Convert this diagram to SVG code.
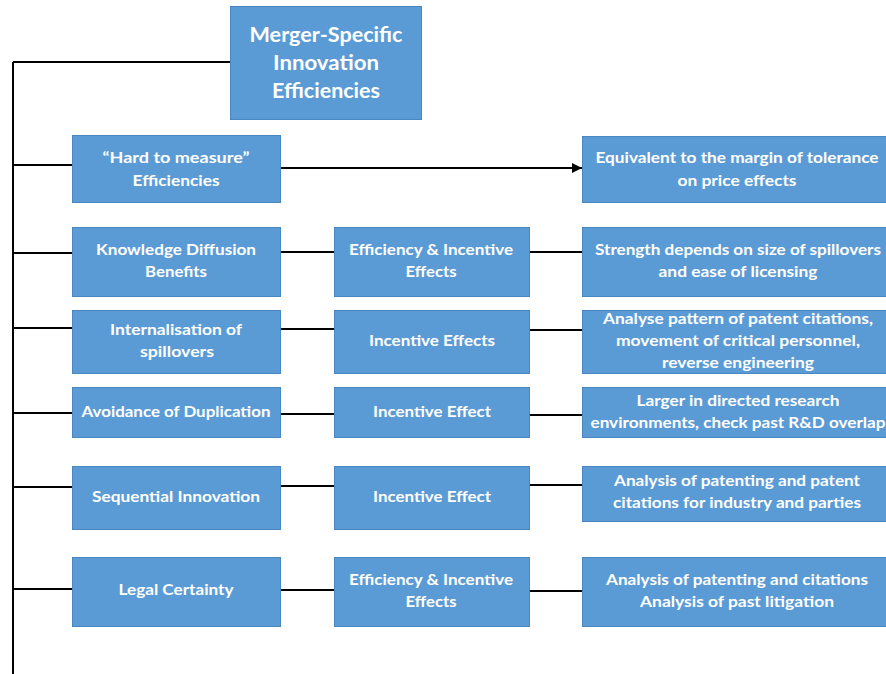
<svg xmlns="http://www.w3.org/2000/svg" width="886" height="674" viewBox="0 0 886 674">
<style>
.box{fill:#5B9BD5;stroke:#4A86C2;stroke-width:1}
.t{font-family:Lato,"Open Sans","Liberation Sans",sans-serif;font-weight:bold;fill:#fff;font-size:15px;text-anchor:middle}
.tt{font-size:20px}
.c{fill:none;stroke:#000;stroke-width:2}
</style>
<defs>
<marker id="arr" viewBox="0 0 10 10" refX="10" refY="5" markerWidth="5" markerHeight="5" orient="auto" markerUnits="strokeWidth">
<path d="M0,0 L10,5 L0,10 z" fill="#000"/>
</marker>
</defs>
<g id="connectors">
<path class="c" d="M13,62 H230"/>
<path class="c" d="M13,62 V674"/>
<path class="c" d="M13,165 H72"/>
<path class="c" d="M280,168 H582" marker-end="url(#arr)"/>
<path class="c" d="M13,253 H72"/>
<path class="c" d="M280,252 H334"/>
<path class="c" d="M529,252 H582"/>
<path class="c" d="M13,328 H72"/>
<path class="c" d="M280,329 H334"/>
<path class="c" d="M529,330 H582"/>
<path class="c" d="M13,413 H72"/>
<path class="c" d="M280,414 H334"/>
<path class="c" d="M529,415 H582"/>
<path class="c" d="M13,487 H72"/>
<path class="c" d="M280,486 H334"/>
<path class="c" d="M529,485 H582"/>
<path class="c" d="M13,589 H72"/>
<path class="c" d="M280,590 H334"/>
<path class="c" d="M529,591 H582"/>
</g>
<g id="root">
<rect class="box" x="230.5" y="6.5" width="191" height="113"/>
<text class="t tt" x="326" y="42" textLength="153" lengthAdjust="spacingAndGlyphs">Merger-Specific</text>
<text class="t tt" x="326" y="70" textLength="106" lengthAdjust="spacingAndGlyphs">Innovation</text>
<text class="t tt" x="326" y="98" textLength="108" lengthAdjust="spacingAndGlyphs">Efficiencies</text>
</g>
<g id="hard">
<rect class="box" x="72.5" y="135.5" width="208" height="67"/>
<text class="t" x="176" y="163" textLength="147" lengthAdjust="spacingAndGlyphs">“Hard to measure”</text>
<text class="t" x="176" y="186" textLength="87" lengthAdjust="spacingAndGlyphs">Efficiencies</text>
</g>
<g id="hard-r">
<rect class="box" x="582.5" y="136.5" width="304" height="66"/>
<text class="t" x="737" y="163" textLength="283" lengthAdjust="spacingAndGlyphs">Equivalent to the margin of tolerance</text>
<text class="t" x="737" y="186" textLength="119" lengthAdjust="spacingAndGlyphs">on price effects</text>
</g>
<g id="know">
<rect class="box" x="72.5" y="227.5" width="208" height="69"/>
<text class="t" x="176" y="255" textLength="160" lengthAdjust="spacingAndGlyphs">Knowledge Diffusion</text>
<text class="t" x="176" y="277" textLength="62" lengthAdjust="spacingAndGlyphs">Benefits</text>
</g>
<g id="know-m">
<rect class="box" x="334.5" y="227.5" width="195" height="69"/>
<text class="t" x="431" y="255" textLength="164" lengthAdjust="spacingAndGlyphs">Efficiency &amp; Incentive</text>
<text class="t" x="431" y="277" textLength="51" lengthAdjust="spacingAndGlyphs">Effects</text>
</g>
<g id="know-r">
<rect class="box" x="582.5" y="227.5" width="304" height="69"/>
<text class="t" x="738" y="255" textLength="286" lengthAdjust="spacingAndGlyphs">Strength depends on size of spillovers</text>
<text class="t" x="738" y="277" textLength="159" lengthAdjust="spacingAndGlyphs">and ease of licensing</text>
</g>
<g id="intern">
<rect class="box" x="72.5" y="310.5" width="208" height="63"/>
<text class="t" x="176" y="335" textLength="132" lengthAdjust="spacingAndGlyphs">Internalisation of</text>
<text class="t" x="177" y="357" textLength="74" lengthAdjust="spacingAndGlyphs">spillovers</text>
</g>
<g id="intern-m">
<rect class="box" x="334.5" y="310.5" width="195" height="63"/>
<text class="t" x="432" y="346" textLength="126" lengthAdjust="spacingAndGlyphs">Incentive Effects</text>
</g>
<g id="intern-r">
<rect class="box" x="582.5" y="310.5" width="304" height="63"/>
<text class="t" x="738" y="324" textLength="270" lengthAdjust="spacingAndGlyphs">Analyse pattern of patent citations,</text>
<text class="t" x="738" y="346" textLength="244" lengthAdjust="spacingAndGlyphs">movement of critical personnel,</text>
<text class="t" x="738" y="368" textLength="152" lengthAdjust="spacingAndGlyphs">reverse engineering</text>
</g>
<g id="avoid">
<rect class="box" x="72.5" y="387.5" width="208" height="50"/>
<text class="t" x="176" y="417" textLength="189" lengthAdjust="spacingAndGlyphs">Avoidance of Duplication</text>
</g>
<g id="avoid-m">
<rect class="box" x="334.5" y="387.5" width="195" height="50"/>
<text class="t" x="432" y="417" textLength="118" lengthAdjust="spacingAndGlyphs">Incentive Effect</text>
</g>
<g id="avoid-r">
<rect class="box" x="582.5" y="387.5" width="304" height="50"/>
<text class="t" x="738" y="406" textLength="203" lengthAdjust="spacingAndGlyphs">Larger in directed research</text>
<text class="t" x="738" y="428" textLength="295" lengthAdjust="spacingAndGlyphs">environments, check past R&amp;D overlap</text>
</g>
<g id="seq">
<rect class="box" x="72.5" y="466.5" width="208" height="63"/>
<text class="t" x="176" y="502" textLength="168" lengthAdjust="spacingAndGlyphs">Sequential Innovation</text>
</g>
<g id="seq-m">
<rect class="box" x="334.5" y="466.5" width="195" height="63"/>
<text class="t" x="432" y="502" textLength="118" lengthAdjust="spacingAndGlyphs">Incentive Effect</text>
</g>
<g id="seq-r">
<rect class="box" x="582.5" y="466.5" width="304" height="55"/>
<text class="t" x="737" y="486" textLength="246" lengthAdjust="spacingAndGlyphs">Analysis of patenting and patent</text>
<text class="t" x="737" y="508" textLength="248" lengthAdjust="spacingAndGlyphs">citations for industry and parties</text>
</g>
<g id="legal">
<rect class="box" x="72.5" y="557.5" width="208" height="69"/>
<text class="t" x="176" y="595" textLength="115" lengthAdjust="spacingAndGlyphs">Legal Certainty</text>
</g>
<g id="legal-m">
<rect class="box" x="334.5" y="557.5" width="195" height="69"/>
<text class="t" x="431" y="585" textLength="164" lengthAdjust="spacingAndGlyphs">Efficiency &amp; Incentive</text>
<text class="t" x="431" y="607" textLength="51" lengthAdjust="spacingAndGlyphs">Effects</text>
</g>
<g id="legal-r">
<rect class="box" x="582.5" y="557.5" width="304" height="69"/>
<text class="t" x="737" y="585" textLength="262" lengthAdjust="spacingAndGlyphs">Analysis of patenting and citations</text>
<text class="t" x="737" y="607" textLength="194" lengthAdjust="spacingAndGlyphs">Analysis of past litigation</text>
</g>
</svg>
